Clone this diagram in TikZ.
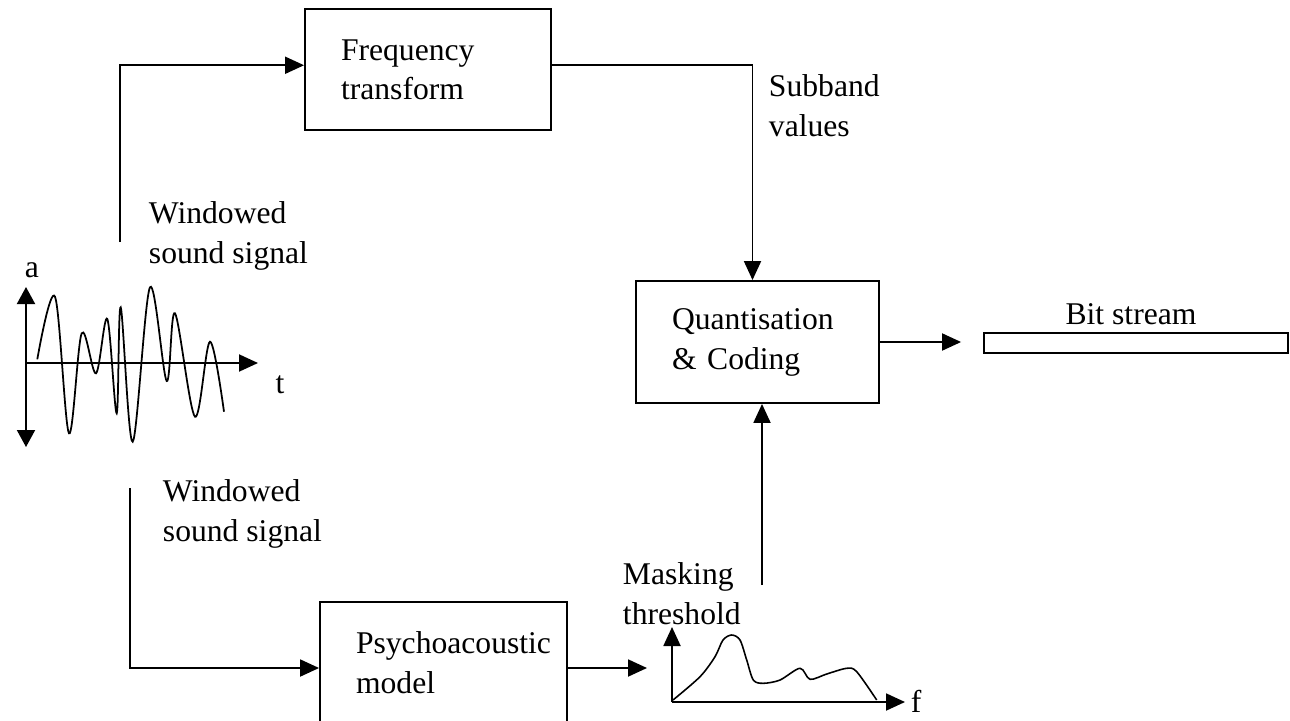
\documentclass[tikz,border=0pt]{standalone}
\usepackage{fontspec}
\setmainfont{Liberation Serif}
\usetikzlibrary{arrows.meta,positioning}
\tikzset{
  arr/.style={-{Triangle[length=0.38cm,width=0.34cm]}},
  blk/.style={draw, align=left, text width=#1, inner xsep=0.72cm, inner ysep=0pt},
  lbl/.style={align=left, inner sep=0pt, anchor=north west},
}
\begin{document}
\begin{tikzpicture}[x=0.02cm, y=-0.02cm, line width=1.1pt,
    font=\fontsize{18}{22.7}\selectfont]
  \useasboundingbox (0,0) rectangle (1290,720);
  % blocks
  \node[blk=3.48cm, minimum width=4.92cm, minimum height=2.42cm] (ft) at (428,69.75) {Frequency\\transform};
  \node[blk=3.42cm, minimum width=4.86cm, minimum height=2.44cm] (qc) at (757.5,342) {Quantisation\\\& Coding};
  \node[blk=3.5cm, minimum width=4.94cm, minimum height=2.44cm] (ps) at (443.5,663) {\mbox{Psychoacoustic}\\model};
  \node[draw, inner sep=0pt, minimum width=6.08cm, minimum height=0.4cm] (bs) at (1136,343) {};
  \node[inner sep=0pt, above=0.12cm of bs, xshift=-0.1cm] (bslbl) {Bit stream};
  % labels
  \node[lbl] (win1) at (148,200.5) {Windowed\\sound signal};
  \node[lbl] (win2) at (162,478.5) {Windowed\\sound signal};
  \node[lbl] (sub) at (768,73.5) {Subband\\values};
  \node[lbl] (mask) at (622,561.5) {Masking\\threshold};
  % connectors
  \coordinate (w1) at (120,242);
  \coordinate (w2) at (130,488);
  \coordinate (mk) at (762,585);
  \coordinate (pm) at (647,668);
  \draw[arr] (w1) |- ([yshift=0.09cm]ft.west);
  \draw[arr] ([yshift=0.09cm]ft.east) -| ([xshift=-0.1cm]qc.north);
  \draw[arr] (qc.east) -- ([xshift=-0.44cm]bs.west |- qc.east);
  \draw[arr] (mk) -- (mk |- qc.south);
  \draw[arr] (w2) |- ([yshift=-0.1cm]ps.west);
  \draw[arr] ([yshift=-0.1cm]ps.east) -- (pm);
  % sound signal
  \draw[{Triangle[length=0.34cm,width=0.36cm]}-{Triangle[length=0.34cm,width=0.36cm]}] (26,287) -- (26,447);
  \draw[arr] (26,363) -- (258,363);
  \node (alab) at (32,270) {a};
  \node (tlab) at (280,385) {t};
  \draw[line width=1pt] plot[smooth, tension=0.55] coordinates {
    (37.3,359.3) (55,296.7) (69,433.3) (81.7,333.3) (96,373.3) (107.3,319)
    (116.7,413.3) (120.7,307.3) (132.7,441.7) (150,287.3) (166.7,381)
    (175,313.3) (195,416.7) (210,341.7) (224,411.7)};
  % masking threshold
  \draw[arr] (672,702) -- (672,627);
  \draw[arr] (672,702) -- (905,702);
  \node (flab) at (916,701) {f};
  \draw[line width=0.9pt] plot[smooth, tension=0.5] coordinates {
    (673,700) (700,676.7) (715,656.7) (723,640) (731.7,635) (740,640)
    (746.7,660) (753.3,680) (763.3,683.3) (780,680) (800,668.3) (810,679.3)
    (826.7,674) (846.7,668.3) (856.7,671.7) (876.7,700)};
\end{tikzpicture}
\end{document}
